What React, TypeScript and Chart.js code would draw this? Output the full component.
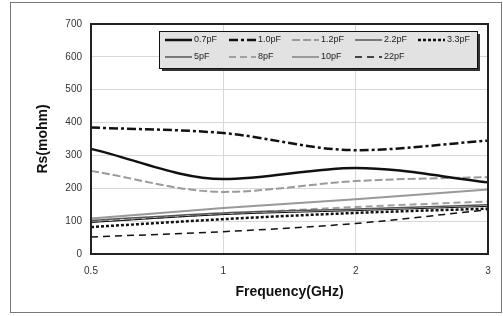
import React, { useEffect, useRef } from "react";
import { Chart, registerables } from "chart.js";

Chart.register(...registerables);

const categories = ["0.5", "1", "2", "3"];
const seriesNames = ["0.7pF", "1.0pF", "1.2pF", "2.2pF", "3.3pF", "5pF", "8pF", "10pF", "22pF"];
const s07 = [320, 228, 262, 218];
const s10 = [385, 368, 316, 345];
const s12 = [253, 189, 222, 234];
const s22 = [96, 120, 132, 145];
const s33 = [82, 106, 125, 138];
const s5 = [102, 125, 137, 150];
const s8 = [98, 122, 143, 160];
const s10pF = [108, 140, 167, 196];
const s22pF = [52, 68, 93, 135];
const yTicks = [0, 100, 200, 300, 400, 500, 600, 700];

const styles = [
  { color: "#111", width: 2.5, dash: [] as number[] },
  { color: "#111", width: 2.5, dash: [9, 3, 3, 3] },
  { color: "#9a9a9a", width: 2, dash: [8, 3] },
  { color: "#111", width: 1, dash: [] },
  { color: "#111", width: 2.5, dash: [3, 2] },
  { color: "#555", width: 1.5, dash: [] },
  { color: "#a0a0a0", width: 2, dash: [7, 4] },
  { color: "#999", width: 2, dash: [] },
  { color: "#111", width: 1.5, dash: [7, 5] },
];
const seriesData = [s07, s10, s12, s22, s33, s5, s8, s10pF, s22pF];

const framePlugin = {
  id: "frame",
  beforeDraw(chart: any) {
    const ctx = chart.ctx;
    ctx.save();
    ctx.fillStyle = "#fff";
    ctx.fillRect(0, 0, chart.width, chart.height);
    ctx.strokeStyle = "#777";
    ctx.lineWidth = 1;
    ctx.strokeRect(10.5, 2.5, 491, 310);
    ctx.restore();
  },
  afterDraw(chart: any) {
    const ctx = chart.ctx;
    const a = chart.chartArea;
    ctx.save();
    ctx.strokeStyle = "#222";
    ctx.lineWidth = 2;
    ctx.setLineDash([]);
    ctx.strokeRect(a.left, a.top, a.right - a.left, a.bottom - a.top);
    // legend
    const bx = 159, by = 31, bw = 318, bh = 37;
    ctx.fillStyle = "#333";
    ctx.fillRect(bx + 3, by + 3, bw, bh);
    ctx.fillStyle = "#e2e2e2";
    ctx.fillRect(bx, by, bw, bh);
    ctx.strokeStyle = "#111";
    ctx.lineWidth = 1;
    ctx.strokeRect(bx + 0.5, by + 0.5, bw, bh);
    const colX = [165, 229, 292, 355, 418];
    const rowY = [40, 57];
    ctx.font = "9px Arial, 'Liberation Sans', sans-serif";
    ctx.textBaseline = "middle";
    ctx.textAlign = "left";
    chart.data.datasets.forEach((ds: any, i: number) => {
      const col = i < 5 ? i : i - 5;
      const row = i < 5 ? 0 : 1;
      const x = colX[col];
      const y = rowY[row];
      ctx.strokeStyle = ds.borderColor;
      ctx.lineWidth = ds.borderWidth;
      ctx.setLineDash(ds.borderDash || []);
      ctx.beginPath();
      ctx.moveTo(x, y);
      ctx.lineTo(x + 27, y);
      ctx.stroke();
      ctx.setLineDash([]);
      ctx.fillStyle = "#222";
      ctx.fillText(ds.label, x + 29, y);
    });
    ctx.restore();
  },
};

export default function App() {
  const ref = useRef<HTMLCanvasElement>(null);
  useEffect(() => {
    document.body.style.margin = "0";
    const chart = new Chart(ref.current!, {
      type: "line",
      data: {
        labels: categories,
        datasets: seriesNames.map((name, i) => ({
          label: name,
          data: seriesData[i],
          borderColor: styles[i].color,
          borderWidth: styles[i].width,
          borderDash: styles[i].dash,
          pointRadius: 0,
          fill: false,
          cubicInterpolationMode: "monotone" as const,
        })),
      },
      options: {
        animation: false,
        responsive: false,
        maintainAspectRatio: false,
        layout: { padding: { left: 0, top: 24, right: 15, bottom: 0 } },
        plugins: { legend: { display: false }, tooltip: { enabled: false } },
        scales: {
          x: {
            type: "category",
            offset: false,
            afterFit: (s: any) => { s.height = 62; },
            grid: { color: "#d8d8d8", drawTicks: false },
            border: { display: false },
            ticks: { padding: 11, color: "#333", font: { size: 10, family: "Arial, 'Liberation Sans', sans-serif" }, maxRotation: 0 },
            title: {
              display: true,
              text: "Frequency(GHz)",
              color: "#111",
              font: { size: 14, weight: "bold", family: "Arial, 'Liberation Sans', sans-serif" },
              padding: { top: 0, bottom: 15 },
            },
          },
          y: {
            min: 0,
            max: 700,
            afterFit: (s: any) => { s.width = 91; },
            afterBuildTicks: (s: any) => { s.ticks = yTicks.map((v) => ({ value: v })); },
            grid: { color: "#d8d8d8", drawTicks: false },
            border: { display: false },
            ticks: { padding: 9, color: "#333", font: { size: 10, family: "Arial, 'Liberation Sans', sans-serif" } },
            title: {
              display: true,
              text: "Rs(mohm)",
              color: "#111",
              font: { size: 14, weight: "bold", family: "Arial, 'Liberation Sans', sans-serif" },
              padding: { top: 35, bottom: 0 },
            },
          },
        },
      },
      plugins: [framePlugin],
    });
    return () => chart.destroy();
  }, []);
  return <canvas ref={ref} width={503} height={316} style={{ display: "block" }} />;
}
